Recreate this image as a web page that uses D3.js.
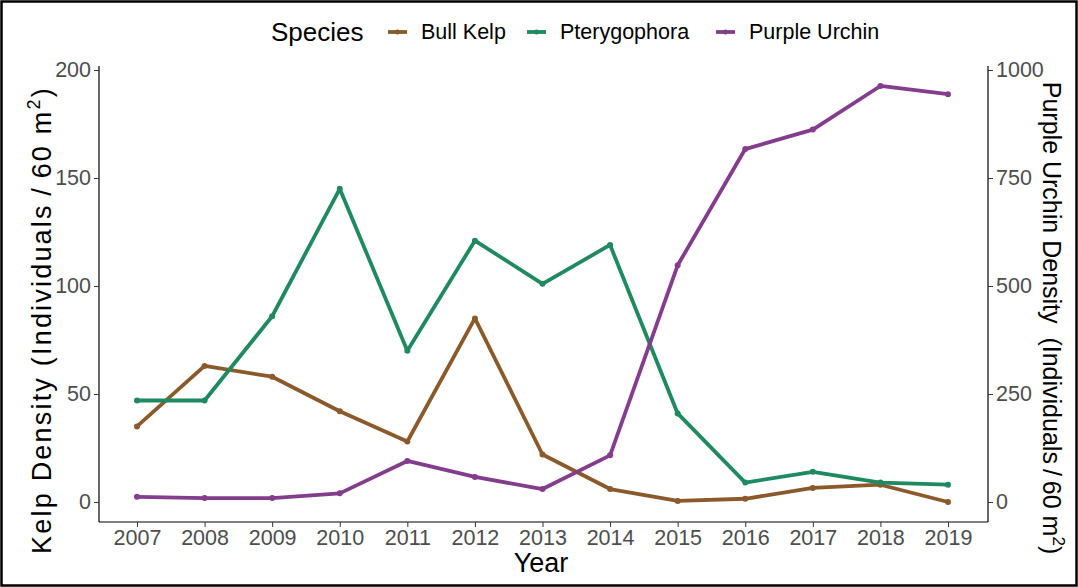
<!DOCTYPE html>
<html><head><meta charset="utf-8">
<script src="https://cdn.jsdelivr.net/npm/d3@7"></script>
<style>body{margin:0;background:#fff}svg{display:block}text{font-family:"Liberation Sans",Arial,sans-serif}</style>
</head><body><svg id="c" width="1078" height="587"></svg>
<script>
const years = [2007,2008,2009,2010,2011,2012,2013,2014,2015,2016,2017,2018,2019];
const bullKelp = [35,63,58,42,28,85,22,6,0.5,1.5,6.5,8,0];
const pterygophora = [47,47,86,145,70,121,101,119,41,9,14,9,8];
const purpleUrchin = [12,9,9,20,95,58,30,108,548,817,862,963,944];
const leftTicks = [0,50,100,150,200];
const rightTicks = [0,250,500,750,1000];
const speciesNames = ["Bull Kelp","Pterygophora","Purple Urchin"];
const colors = ["#8B5A2B","#1F8A5F","#833D8C"];

const svg = d3.select("#c");
svg.append("rect").attr("x",1.5).attr("y",1.5).attr("width",1075).attr("height",584)
  .attr("fill","#fff").attr("stroke","#000").attr("stroke-width",2.5);

const L=99, R=988, T=66, B=522;
const x = d3.scalePoint().domain(years).range([137,948]);
const yL = d3.scaleLinear().domain([0,200]).range([502,70]);
const yR = d3.scaleLinear().domain([0,1000]).range([502,70]);

// axes
const gx = svg.append("g").attr("transform",`translate(0,${B})`).call(d3.axisBottom(x).tickSize(5).tickPadding(3));
gx.select(".domain").attr("d",`M${L},0H${R}`);
const gl = svg.append("g").attr("transform",`translate(${L},0)`).call(d3.axisLeft(yL).tickValues(leftTicks).tickSize(5).tickPadding(3));
gl.select(".domain").attr("d",`M0,${T}V${B}`);
const gr = svg.append("g").attr("transform",`translate(${R},0)`).call(d3.axisRight(yR).tickValues(rightTicks).tickFormat(d3.format("d")).tickSize(5).tickPadding(3));
gr.select(".domain").attr("d",`M0,${T}V${B}`);
svg.selectAll(".domain").attr("stroke","#000").attr("stroke-width",1.2);
svg.selectAll(".tick line").attr("stroke","#333");
svg.selectAll(".tick text").attr("fill","#4d4d4d").style("font-size","21.5px").style("font-family","Liberation Sans, Arial, sans-serif");

// series
const series = [
  {name:speciesNames[0], vals:bullKelp, y:yL, c:colors[0]},
  {name:speciesNames[1], vals:pterygophora, y:yL, c:colors[1]},
  {name:speciesNames[2], vals:purpleUrchin, y:yR, c:colors[2]}
];
series.forEach(s=>{
  const line = d3.line().x((d,i)=>x(years[i])).y(d=>s.y(d));
  svg.append("path").attr("d",line(s.vals)).attr("fill","none").attr("stroke",s.c)
    .attr("stroke-width",3.8).attr("stroke-linejoin","round");
  svg.append("g").selectAll("circle").data(s.vals).join("circle")
    .attr("cx",(d,i)=>x(years[i])).attr("cy",d=>s.y(d)).attr("r",3).attr("fill",s.c);
});

// axis titles
svg.append("text").attr("x",541).attr("y",572).attr("text-anchor","middle")
  .style("font-size","27px").attr("fill","#000").text("Year");
const lt = svg.append("text").attr("transform","translate(51,320) rotate(-90)").attr("text-anchor","middle")
  .style("font-size","27px").style("letter-spacing","2.2px").attr("fill","#000");
lt.append("tspan").text("Kelp Density (Individuals\u2009/\u200960 m");
lt.append("tspan").attr("dy",-11).style("font-size","18px").text("2");
lt.append("tspan").attr("dy",11).text(")");
const rt = svg.append("text").attr("transform","translate(1043,318) rotate(90)").attr("text-anchor","middle")
  .style("font-size","25px").attr("fill","#000");
rt.append("tspan").text("Purple Urchin Density\u00a0 (Individuals\u2009/\u200960 m");
rt.append("tspan").attr("dy",-10).style("font-size","17px").text("2");
rt.append("tspan").attr("dy",10).text(")");

// legend
svg.append("text").attr("x",271).attr("y",41).style("font-size","26px").attr("fill","#000").text("Species");
const legX = [388,527,716];
series.forEach((s,i)=>{
  svg.append("line").attr("x1",legX[i]).attr("x2",legX[i]+19).attr("y1",32).attr("y2",32)
    .attr("stroke",s.c).attr("stroke-width",3.8);
  svg.append("circle").attr("cx",legX[i]+9.5).attr("cy",32).attr("r",2.5).attr("fill",s.c);
  svg.append("text").attr("x",legX[i]+33).attr("y",39).style("font-size","21.5px").attr("fill","#000").text(s.name);
});
</script></body></html>
